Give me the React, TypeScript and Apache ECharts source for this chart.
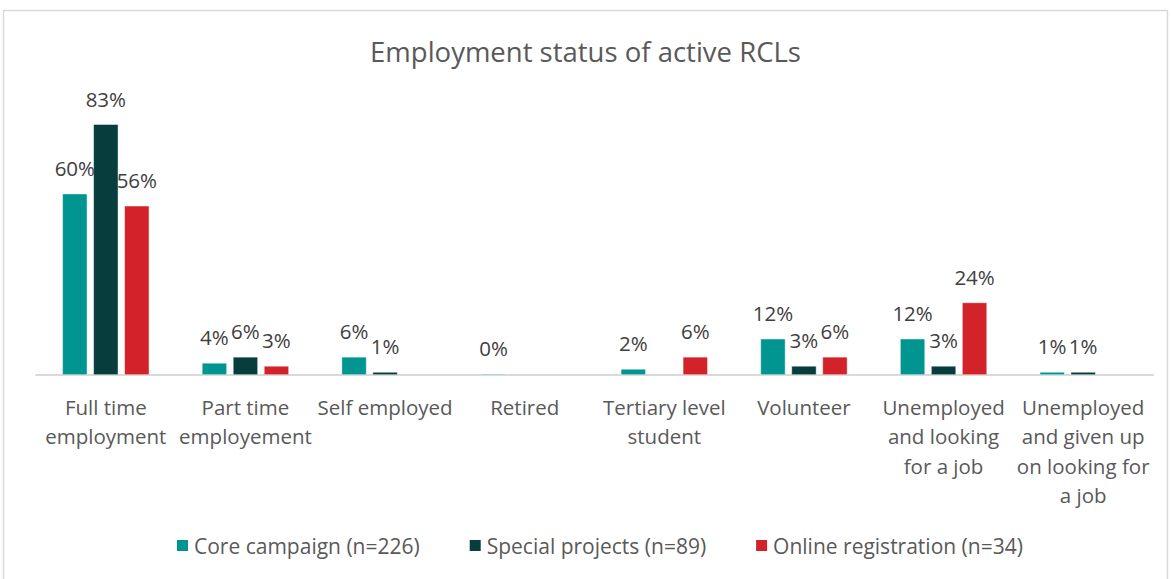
import React, { useEffect, useRef } from "react";
import * as echarts from "echarts";

const categories = [
  "Full time\nemployment",
  "Part time\nemployement",
  "Self employed",
  "Retired",
  "Tertiary level\nstudent",
  "Volunteer",
  "Unemployed\nand looking\nfor a job",
  "Unemployed\nand given up\non looking for\na job",
];
const seriesNames = ["Core campaign (n=226)", "Special projects (n=89)", "Online registration (n=34)"];
const coreCampaign = [60, 4, 6, 0.4, 2, 12, 12, 1];
const specialProjects = [83, 6, 1, null, null, 3, 3, 1];
const onlineRegistration = [56, 3, null, null, 6, 6, 24, null];
const colors = ["#009590", "#073D3D", "#D3222A"];

const FONT = "'Open Sans', 'Liberation Sans', sans-serif";

export default function App() {
  const ref = useRef<HTMLDivElement>(null);
  useEffect(() => {
    document.body.style.margin = "0";
    const chart = echarts.init(ref.current!, null, { renderer: "svg" });
    const label = {
      show: true,
      position: "top",
      distance: 15,
      color: "#404040",
      fontSize: 20.5,
      fontFamily: FONT,
      formatter: (p: any) => Math.round(p.value) + "%",
    };
    const data = [coreCampaign, specialProjects, onlineRegistration];
    chart.setOption({
      animation: false,
      textStyle: { fontFamily: FONT },
      title: {
        text: "Employment status of active RCLs",
        left: "center",
        top: 32,
        textStyle: { fontSize: 27.5, fontWeight: "normal", color: "#595959", fontFamily: FONT },
      },
      graphic: [
        {
          type: "rect",
          shape: { x: 3.5, y: 10.5, width: 1164, height: 580 },
          style: { fill: "none", stroke: "#d9d9d9", lineWidth: 1.5 },
          silent: true,
        },
      ],
      legend: {
        bottom: 18,
        left: 170,
        itemWidth: 13,
        itemHeight: 13,
        itemGap: 48,
        icon: "rect",
        textStyle: { fontSize: 21, color: "#595959", fontFamily: FONT },
        data: seriesNames,
      },
      grid: { left: 36, right: 18, top: 103, height: 272, containLabel: false },
      xAxis: {
        type: "category",
        data: categories,
        axisTick: { show: false },
        axisLine: { lineStyle: { color: "#d9d9d9", width: 2 } },
        axisLabel: {
          interval: 0,
          color: "#595959",
          fontSize: 20.5,
          lineHeight: 29.5,
          margin: 17,
          fontFamily: FONT,
        },
      },
      yAxis: {
        type: "value",
        min: 0,
        max: 90,
        show: false,
        splitLine: { show: false },
      },
      series: seriesNames.map((name, i) => ({
        name,
        type: "bar",
        data: data[i],
        barWidth: 25,
        barGap: "24%",
        itemStyle: { color: colors[i], borderColor: "#ffffff", borderWidth: 0.5 },
        label,
      })),
    });
    return () => chart.dispose();
  }, []);
  return <div ref={ref} style={{ width: 1171, height: 579 }} />;
}
